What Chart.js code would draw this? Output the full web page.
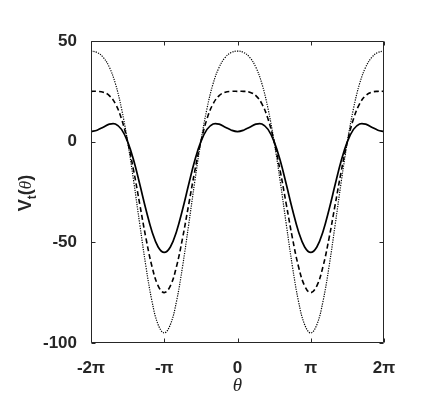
<!DOCTYPE html>
<html>
<head>
<meta charset="utf-8">
<script src="https://cdn.jsdelivr.net/npm/chart.js@4"></script>
<style>
  html, body { margin: 0; padding: 0; background: #ffffff; }
  #c { display: block; }
</style>
</head>
<body>
<canvas id="c" width="436" height="410"></canvas>
<script>
// theta in units of pi
const thetaPi = [-2, -1.9167, -1.8333, -1.75, -1.6667, -1.5833, -1.5, -1.4167, -1.3333, -1.25, -1.1667, -1.0833,
  -1, -0.9167, -0.8333, -0.75, -0.6667, -0.5833, -0.5, -0.4167, -0.3333, -0.25, -0.1667, -0.0833,
  0, 0.0833, 0.1667, 0.25, 0.3333, 0.4167, 0.5, 0.5833, 0.6667, 0.75, 0.8333, 0.9167,
  1, 1.0833, 1.1667, 1.25, 1.3333, 1.4167, 1.5, 1.5833, 1.6667, 1.75, 1.8333, 1.9167, 2];

const solidV = [5.0, 5.7, 7.2, 8.7, 8.8, 6.1, 0, -9.4, -21.3, -33.7, -44.7, -52.3,
  -55.0, -52.3, -44.7, -33.7, -21.3, -9.4, 0, 6.1, 8.8, 8.7, 7.2, 5.7,
  5.0, 5.7, 7.2, 8.7, 8.8, 6.1, 0, -9.4, -21.3, -33.7, -44.7, -52.3,
  -55.0, -52.3, -44.7, -33.7, -21.3, -9.4, 0, 6.1, 8.8, 8.7, 7.2, 5.7, 5.0];

const dashedV = [25.0, 25.0, 24.6, 22.9, 18.8, 11.3, 0, -14.6, -31.3, -47.9, -62.1, -71.6,
  -75.0, -71.6, -62.1, -47.9, -31.3, -14.6, 0, 11.3, 18.8, 22.9, 24.6, 25.0,
  25.0, 25.0, 24.6, 22.9, 18.8, 11.3, 0, -14.6, -31.3, -47.9, -62.1, -71.6,
  -75.0, -71.6, -62.1, -47.9, -31.3, -14.6, 0, 11.3, 18.8, 22.9, 24.6, 25.0, 25.0];

const dottedV = [45.0, 44.3, 41.9, 37.0, 28.8, 16.4, 0, -19.8, -41.3, -62.0, -79.4, -90.9,
  -95.0, -90.9, -79.4, -62.0, -41.3, -19.8, 0, 16.4, 28.8, 37.0, 41.9, 44.3,
  45.0, 44.3, 41.9, 37.0, 28.8, 16.4, 0, -19.8, -41.3, -62.0, -79.4, -90.9,
  -95.0, -90.9, -79.4, -62.0, -41.3, -19.8, 0, 16.4, 28.8, 37.0, 41.9, 44.3, 45.0];

const xTickValues = [-2, -1, 0, 1, 2];
const xTickLabels = ['-2π', '-π', '0', 'π', '2π'];
const yTickValues = [-100, -50, 0, 50];
const xAxisLabel = 'θ';

const AXIS = '#262626';
const SANS = "'Liberation Sans', Arial, Helvetica, sans-serif";
const SERIF = "'Liberation Serif', 'Times New Roman', serif";

function pts(vals) { return thetaPi.map((t, i) => ({ x: t, y: vals[i] })); }

const framePlugin = {
  id: 'frame',
  afterDraw(chart) {
    const ctx = chart.ctx;
    const a = chart.chartArea;
    const xs = chart.scales.x, ys = chart.scales.y;
    ctx.save();
    ctx.strokeStyle = AXIS;
    ctx.lineWidth = 1;
    const L = Math.round(a.left) + 0.5, R = Math.round(a.right) - 0.5;
    const T = Math.round(a.top) + 0.5, B = Math.round(a.bottom) - 0.5;
    ctx.beginPath();
    ctx.rect(L, T, R - L, B - T);
    const tl = 4;
    xTickValues.forEach(v => {
      const px = Math.round(xs.getPixelForValue(v)) + 0.5;
      ctx.moveTo(px, B); ctx.lineTo(px, B - tl);
      ctx.moveTo(px, T); ctx.lineTo(px, T + tl);
    });
    yTickValues.forEach(v => {
      const py = Math.round(ys.getPixelForValue(v)) + 0.5;
      ctx.moveTo(L, py); ctx.lineTo(L + tl, py);
      ctx.moveTo(R, py); ctx.lineTo(R - tl, py);
    });
    ctx.stroke();

    // y axis label V_t(θ)
    ctx.fillStyle = AXIS;
    ctx.translate(31, 193);
    ctx.rotate(-Math.PI / 2);
    ctx.textBaseline = 'alphabetic';
    ctx.textAlign = 'left';
    const parts = [
      { t: 'V', f: 'bold 18px ' + SANS, dy: 0 },
      { t: 't', f: 'bold 12px ' + SANS, dy: 5 },
      { t: '(', f: 'bold 18px ' + SANS, dy: 0 },
      { t: 'θ', f: 'italic 17px ' + SERIF, dy: 0 },
      { t: ')', f: 'bold 18px ' + SANS, dy: 0 }
    ];
    let w = 0;
    parts.forEach(p => { ctx.font = p.f; p.w = ctx.measureText(p.t).width; w += p.w; });
    let x = -w / 2;
    parts.forEach(p => { ctx.font = p.f; ctx.fillText(p.t, x, p.dy); x += p.w; });
    ctx.restore();
  }
};

new Chart(document.getElementById('c'), {
  type: 'line',
  data: {
    datasets: [
      { data: pts(dottedV), borderColor: '#000', borderWidth: 1.2, borderDash: [1.2, 1.2], pointRadius: 0, tension: 0.4, fill: false },
      { data: pts(dashedV), borderColor: '#000', borderWidth: 1.6, borderDash: [5, 3], pointRadius: 0, tension: 0.4, fill: false },
      { data: pts(solidV), borderColor: '#000', borderWidth: 1.7, pointRadius: 0, tension: 0.4, fill: false }
    ]
  },
  options: {
    responsive: false,
    animation: false,
    devicePixelRatio: 1,
    layout: { padding: { left: 0, right: 52, top: 41, bottom: 0 } },
    plugins: { legend: { display: false }, tooltip: { enabled: false } },
    scales: {
      x: {
        type: 'linear', min: -2, max: 2,
        afterBuildTicks(scale) { scale.ticks = xTickValues.map(v => ({ value: v })); },
        afterFit(scale) { scale.height = 67; },
        grid: { display: false },
        border: { display: false },
        ticks: {
          color: AXIS, padding: 7, maxRotation: 0, autoSkip: false,
          font: { family: SANS, size: 17, weight: 'bold' },
          callback(v) { const i = xTickValues.indexOf(v); return i >= 0 ? xTickLabels[i] : ''; }
        },
        title: {
          display: true, text: xAxisLabel, color: AXIS,
          font: { family: SERIF, size: 19, style: 'italic' },
          padding: { top: 0, bottom: 13 }
        }
      },
      y: {
        type: 'linear', min: -100, max: 50,
        afterBuildTicks(scale) { scale.ticks = yTickValues.map(v => ({ value: v })); },
        afterFit(scale) { scale.width = 91; },
        grid: { display: false },
        border: { display: false },
        ticks: {
          color: AXIS, padding: 6,
          font: { family: SANS, size: 17, weight: 'bold' }
        }
      }
    }
  },
  plugins: [framePlugin]
});
</script>
</body>
</html>
